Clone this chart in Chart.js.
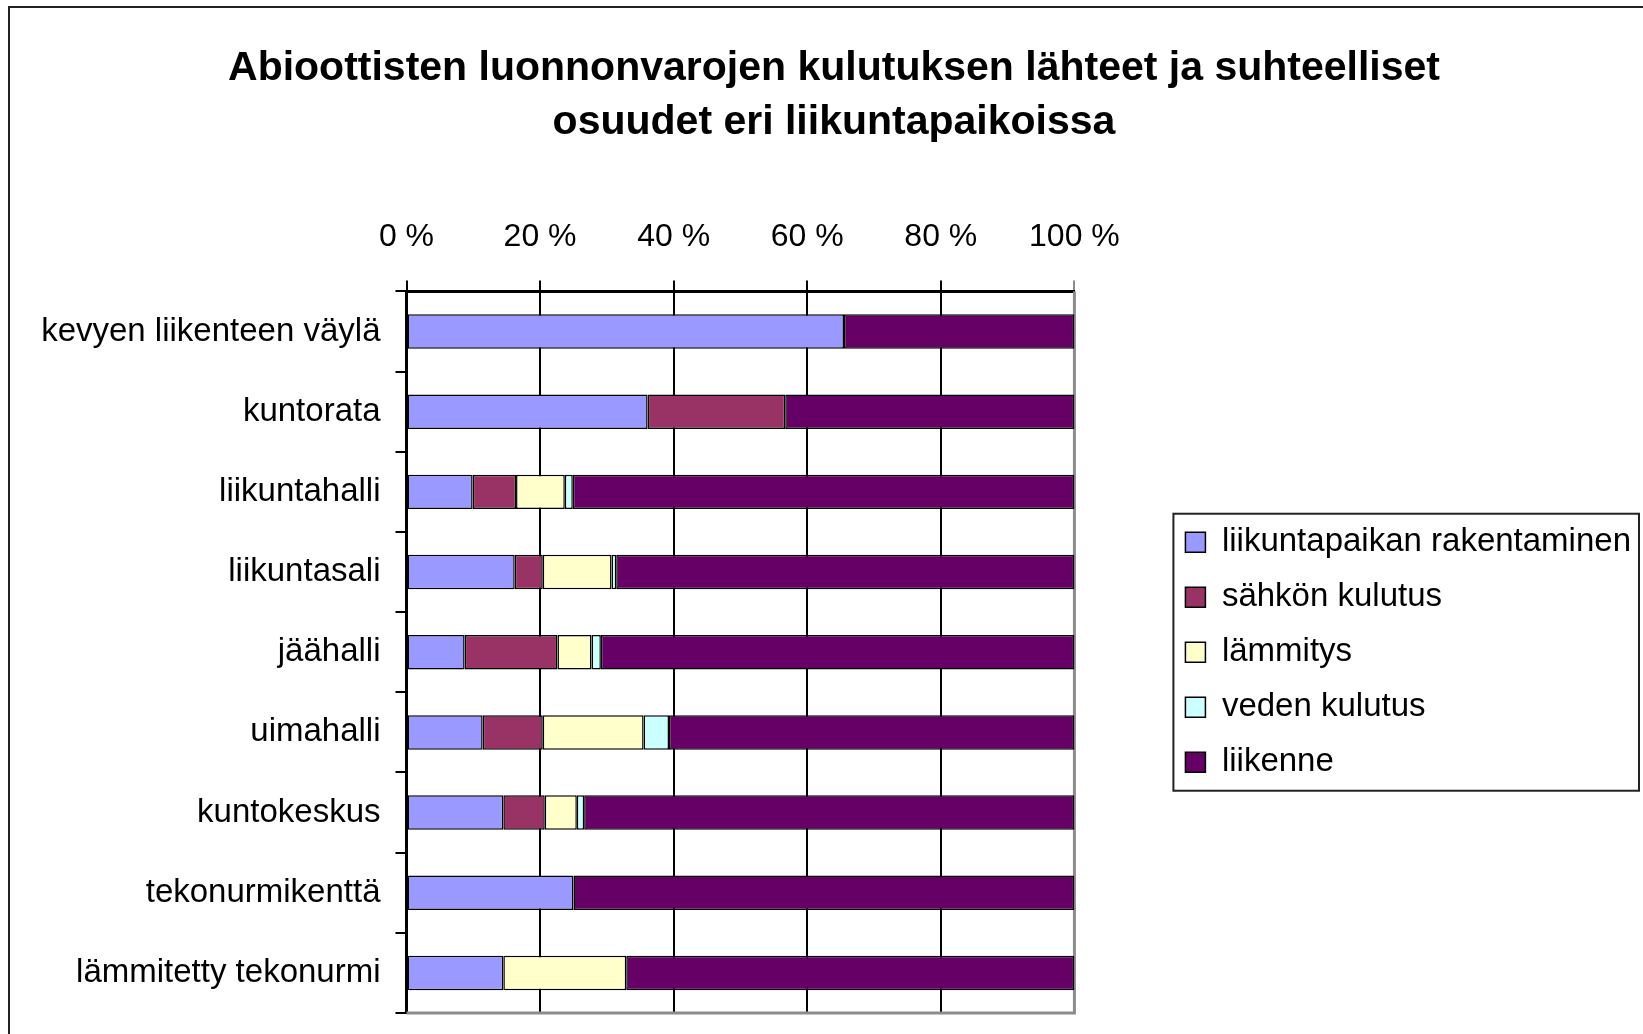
<!DOCTYPE html>
<html>
<head>
<meta charset="utf-8">
<script src="https://cdn.jsdelivr.net/npm/chart.js@4/dist/chart.umd.min.js"></script>
<style>
  html, body { margin: 0; padding: 0; background: #fff; overflow: hidden; width: 1643px; height: 1034px; }
  #frame { position: absolute; left: 8px; top: 6px; width: 3000px; height: 3000px; border: 2px solid #222; }
  #wrap { position: absolute; left: 0; top: 0; width: 1641px; height: 1060px; }
</style>
</head>
<body>
<div id="frame"></div>
<div id="wrap"><canvas id="c" width="1641" height="1060"></canvas></div>
<script>
const categories = ['kevyen liikenteen väylä', 'kuntorata', 'liikuntahalli', 'liikuntasali', 'jäähalli', 'uimahalli', 'kuntokeskus', 'tekonurmikenttä', 'lämmitetty tekonurmi'];
const seriesNames = ['liikuntapaikan rakentaminen', 'sähkön kulutus', 'lämmitys', 'veden kulutus', 'liikenne'];
const rakentaminen = [65.5, 36.1, 9.9, 16.2, 8.7, 11.4, 14.5, 25.0, 14.5];
const sahko        = [null, 20.6, 6.5, 4.2, 13.9, 9.0, 6.2, null, null];
const lammitys     = [null, null, 7.3, 10.3, 5.1, 15.1, 4.8, null, 18.4];
const vesi         = [null, null, 1.2, 0.7, 1.4, 3.8, 1.1, null, null];
const liikenne     = [34.5, 43.3, 75.1, 68.6, 70.9, 60.7, 73.4, 75.0, 67.1];
const xTicks = [0, 20, 40, 60, 80, 100];
const colors = ['#9999FF', '#993366', '#FFFFCC', '#CCFFFF', '#660066'];

const FONT = "'Liberation Sans', Arial, sans-serif";
const values = [rakentaminen, sahko, lammitys, vesi, liikenne];

const datasets = seriesNames.map((name, i) => ({
  label: name,
  data: values[i],
  backgroundColor: colors[i],
  borderColor: '#000',
  borderWidth: 1.5,
  borderSkipped: false,
  categoryPercentage: 1.0,
  barPercentage: 0.43
}));

const framePlugin = {
  id: 'frames',
  beforeDatasetsDraw(chart) {
    const a = chart.chartArea, ctx = chart.ctx;
    ctx.save();
    ctx.strokeStyle = '#8c8c8c';
    ctx.lineWidth = 3;
    ctx.beginPath();
    ctx.moveTo(a.right, a.top);
    ctx.lineTo(a.right, a.bottom);
    ctx.lineTo(a.left, a.bottom);
    ctx.stroke();
    ctx.restore();
  },
  afterDraw(chart) {
    const lg = chart.legend;
    if (!lg || !lg.legendHitBoxes || !lg.legendHitBoxes.length) return;
    const hb = lg.legendHitBoxes;
    let l = Infinity, t = Infinity, r = -Infinity, b = -Infinity;
    hb.forEach(h => { l = Math.min(l, h.left); t = Math.min(t, h.top); r = Math.max(r, h.left + h.width); b = Math.max(b, h.top + h.height); });
    const ctx = chart.ctx;
    ctx.save();
    ctx.strokeStyle = '#222';
    ctx.lineWidth = 2;
    ctx.strokeRect(l - 12, t - 12, (r + 8) - (l - 12), (b + 12) - (t - 12));
    ctx.restore();
  }
};

new Chart(document.getElementById('c'), {
  type: 'bar',
  data: { labels: categories, datasets },
  plugins: [framePlugin],
  options: {
    indexAxis: 'y',
    responsive: false,
    devicePixelRatio: 1,
    animation: false,
    layout: { padding: { left: 27, right: 0, top: 0, bottom: 47 } },
    plugins: {
      title: {
        display: true,
        text: ['Abioottisten luonnonvarojen kulutuksen lähteet ja suhteelliset', 'osuudet eri liikuntapaikoissa'],
        color: '#000',
        font: { family: FONT, size: 41, weight: 'bold', lineHeight: 1.33 },
        padding: { top: 41, bottom: 44 }
      },
      legend: {
        position: 'right',
        fullSize: false,
        align: 'center',
        maxWidth: 700,
        labels: {
          color: '#000',
          font: { family: FONT, size: 33 },
          boxWidth: 20,
          boxHeight: 20,
          padding: 22
        }
      },
      tooltip: { enabled: false }
    },
    scales: {
      x: {
        type: 'linear',
        position: 'top',
        stacked: true,
        min: 0,
        max: 100,
        afterBuildTicks(s) { s.ticks = xTicks.map(v => ({ value: v })); },
        ticks: {
          color: '#000',
          font: { family: FONT, size: 32 },
          padding: 24,
          callback: v => v + ' %'
        },
        grid: {
          color: ctx => (ctx.tick && ctx.tick.value === 100) ? '#8c8c8c' : '#000',
          lineWidth: 2,
          tickLength: 11
        },
        border: { display: true, color: '#000', width: 3 }
      },
      y: {
        type: 'category',
        stacked: true,
        offset: true,
        ticks: {
          color: '#000',
          font: { family: FONT, size: 33 },
          padding: 15
        },
        grid: {
          offset: true,
          drawOnChartArea: false,
          drawTicks: true,
          tickLength: 11,
          color: '#000',
          lineWidth: 2
        },
        border: { display: true, color: '#000', width: 3 },
        afterFit(s) { s.width = 379.5; }
      },
      gap: {
        type: 'linear',
        position: 'right',
        display: true,
        grid: { display: false, drawTicks: false },
        border: { display: false },
        ticks: { display: false },
        afterFit(s) { s.width = 89; }
      }
    }
  }
});
</script>
</body>
</html>
